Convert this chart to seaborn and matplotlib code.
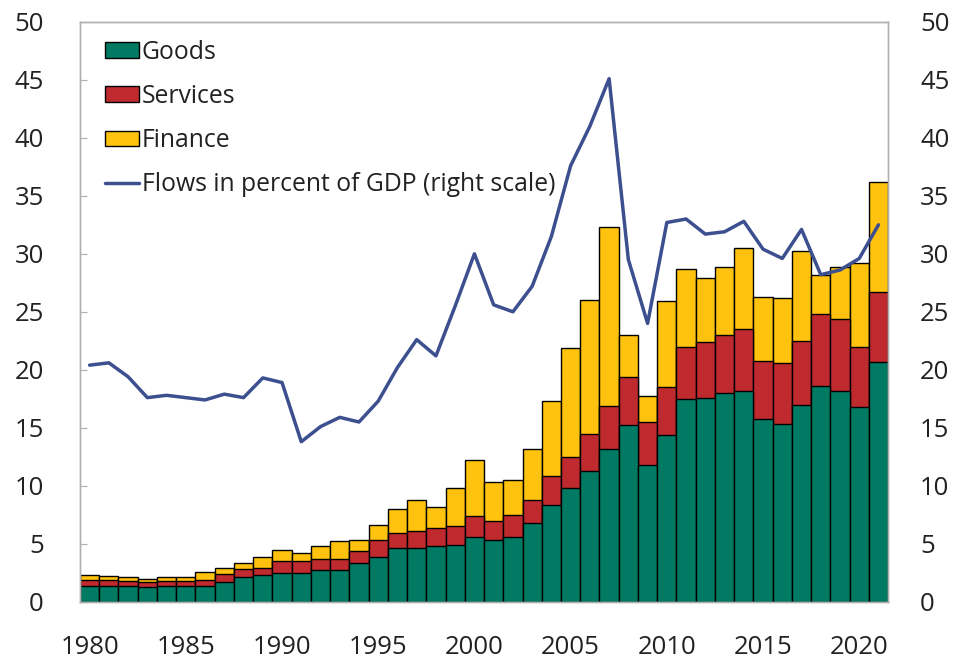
import numpy as np
import pandas as pd
import matplotlib
matplotlib.use("Agg")
import matplotlib.pyplot as plt
import seaborn as sns
from matplotlib.patches import Patch
from matplotlib.lines import Line2D

# Данные
years = list(range(1980, 2022))
goods = [1.4, 1.4, 1.4, 1.3, 1.4, 1.4, 1.4, 1.7, 2.1, 2.3,
         2.5, 2.5, 2.7, 2.7, 3.3, 3.9, 4.6, 4.6, 4.8, 4.9,
         5.6, 5.3, 5.6, 6.8, 8.3, 9.8, 11.3, 13.2, 15.2, 11.8,
         14.4, 17.5, 17.6, 18.0, 18.2, 15.8, 15.3, 17.0, 18.6, 18.2,
         16.8, 20.7]
services = [0.5, 0.5, 0.4, 0.4, 0.4, 0.4, 0.5, 0.7, 0.7, 0.6,
            1.0, 1.0, 1.0, 1.0, 1.1, 1.4, 1.3, 1.5, 1.6, 1.6,
            1.8, 1.7, 1.9, 2.0, 2.5, 2.7, 3.2, 3.7, 4.2, 3.7,
            4.1, 4.5, 4.8, 5.0, 5.3, 5.0, 5.3, 5.5, 6.2, 6.2,
            5.2, 6.0]
finance = [0.4, 0.3, 0.3, 0.3, 0.3, 0.3, 0.7, 0.5, 0.5, 1.0,
           1.0, 0.7, 1.1, 1.5, 0.9, 1.3, 2.1, 2.7, 1.8, 3.3,
           4.8, 3.3, 3.0, 4.4, 6.5, 9.4, 11.5, 15.4, 3.6, 2.2,
           7.4, 6.7, 5.5, 5.9, 7.0, 5.5, 5.6, 7.7, 3.4, 4.5,
           7.2, 9.5]
flows_pct_gdp = [20.4, 20.6, 19.4, 17.6, 17.8, 17.6, 17.4, 17.9, 17.6, 19.3,
                 18.9, 13.8, 15.1, 15.9, 15.5, 17.3, 20.2, 22.6, 21.2, 25.5,
                 30.0, 25.6, 25.0, 27.2, 31.5, 37.6, 41.0, 45.1, 29.5, 24.0,
                 32.7, 33.0, 31.7, 31.9, 32.8, 30.4, 29.6, 32.1, 28.2, 28.6,
                 29.6, 32.5]

c_goods = "#007A62"
c_serv = "#BE2A2E"
c_fin = "#FFC20E"
c_line = "#3C4F8E"

df = pd.DataFrame({"year": years, "goods": goods,
                   "services": services, "finance": finance,
                   "flows": flows_pct_gdp})
df["gs"] = df["goods"] + df["services"]
df["total"] = df["gs"] + df["finance"]

sns.set_style("white")
plt.rcParams["font.family"] = ["Open Sans", "DejaVu Sans"]

fig = plt.figure(figsize=(9.57, 6.62), dpi=100)
ax = fig.add_axes([0.0836, 0.091, 0.8444, 0.876])

# стек рисуем наложением: сначала сумма, потом нижние части
for col, color in [("total", c_fin), ("gs", c_serv), ("goods", c_goods)]:
    sns.barplot(data=df, x="year", y=col, color=color, width=1.0,
                edgecolor="black", linewidth=1.0, saturation=1, ax=ax)

ax2 = ax.twinx()
sns.lineplot(x=np.arange(len(years)), y=df["flows"], color=c_line,
             linewidth=2.5, ax=ax2)

for a in (ax, ax2):
    a.set_ylim(0, 50)
    a.set_xlim(-0.5, len(years) - 0.5)
    a.set_yticks(range(0, 51, 5))
    a.set_xlabel("")
    a.set_ylabel("")
    for s in a.spines.values():
        s.set_color("#b0b0b0")
        s.set_linewidth(1.0)

ax.set_xticks(range(0, len(years), 5))
ax.set_xticklabels([str(y) for y in years[::5]])
ax.set_xticks(np.arange(4.5, len(years) - 1, 5), minor=True)
ax.tick_params(axis="x", which="major", length=0, pad=24, labelsize=18.5, labelcolor="#222222")
ax.tick_params(axis="x", which="minor", direction="in", length=5, color="#dfeee9", width=1.2)
ax.tick_params(axis="y", direction="in", length=5, color="#b0b0b0", pad=26,
               labelsize=18.5, labelcolor="#222222", left=True)
ax2.tick_params(axis="y", length=0, pad=23, labelsize=18.5, labelcolor="#222222")

handles = [Patch(facecolor=c_goods, edgecolor="black", label="Goods"),
           Patch(facecolor=c_serv, edgecolor="black", label="Services"),
           Patch(facecolor=c_fin, edgecolor="black", label="Finance"),
           Line2D([0], [0], color=c_line, linewidth=2.5,
                  label="Flows in percent of GDP (right scale)")]
leg = ax2.legend(handles=handles, loc="upper left", bbox_to_anchor=(0.012, 0.995),
                 frameon=False, fontsize=17.8, handlelength=1.4, handleheight=0.6,
                 handletextpad=0.1, labelspacing=0.78, borderaxespad=0.2)
for t in leg.get_texts():
    t.set_color("#222222")

fig.savefig("out.png", dpi=100)
